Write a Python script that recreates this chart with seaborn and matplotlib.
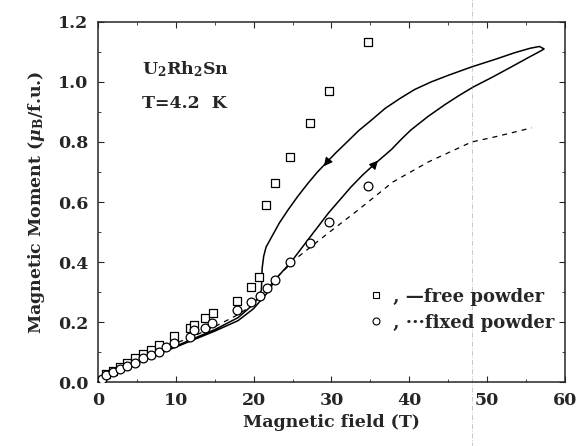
import seaborn as sns
import matplotlib.pyplot as plt
import pandas as pd
from matplotlib.ticker import MultipleLocator
from matplotlib.lines import Line2D

# datos
free_x = [1.0, 1.9, 2.8, 3.8, 4.8, 5.8, 6.8, 7.8, 9.8, 11.8, 12.3, 13.8, 14.8,
          17.9, 19.7, 20.7, 21.6, 22.75, 24.7, 27.2, 29.7, 34.7]
free_y = [0.027, 0.037, 0.05, 0.063, 0.08, 0.093, 0.107, 0.123, 0.153, 0.18, 0.19,
          0.213, 0.23, 0.27, 0.317, 0.35, 0.59, 0.663, 0.75, 0.863, 0.97, 1.133]

fixed_x = [0.5, 1.0, 1.9, 2.8, 3.8, 4.8, 5.8, 6.8, 7.8, 8.7, 9.8, 11.8, 12.3,
           13.8, 14.7, 17.9, 19.7, 20.8, 21.7, 22.8, 24.7, 27.3, 29.7, 34.7]
fixed_y = [0.01, 0.023, 0.033, 0.043, 0.053, 0.063, 0.08, 0.09, 0.1, 0.117, 0.13,
           0.15, 0.173, 0.18, 0.197, 0.24, 0.267, 0.287, 0.313, 0.34, 0.40, 0.463,
           0.533, 0.653]

# curva libre: subida y bajada (histeresis)
up_x = [0, 2, 5, 10, 15, 18, 20, 21, 22, 22.7, 24.8, 27, 29.6, 31, 32.5, 34,
        35.6, 37.7, 39, 40.2, 42.4, 44.6, 46.4, 48.2, 50.6, 53.1, 55.2, 56.5, 57.2]
up_y = [0, 0.025, 0.065, 0.117, 0.17, 0.205, 0.245, 0.275, 0.305, 0.34, 0.40,
        0.475, 0.563, 0.605, 0.65, 0.69, 0.728, 0.775, 0.81, 0.84, 0.885, 0.925,
        0.955, 0.983, 1.015, 1.05, 1.08, 1.098, 1.108]
down_x = [57.3, 56.7, 55.5, 53.5, 51, 48, 45, 42.8, 40.7, 38.8, 36.9, 35, 33.5,
          32, 30.6, 29.3, 28.2, 27, 25.7, 24.4, 23.3, 22.3, 21.6, 21.3, 21.1,
          21.0, 20.6, 20, 18, 15, 10, 5, 2, 0]
down_y = [1.11, 1.118, 1.112, 1.097, 1.075, 1.05, 1.022, 1.0, 0.975, 0.945,
          0.912, 0.87, 0.838, 0.80, 0.765, 0.73, 0.70, 0.663, 0.62, 0.573, 0.53,
          0.483, 0.45, 0.42, 0.38, 0.307, 0.283, 0.26, 0.215, 0.175, 0.12, 0.066,
          0.026, 0]

# curva fija (punteada)
fix_line_x = [0, 5, 10, 12, 15, 18, 20, 23.5, 25.7, 29.6, 33.4, 37.9, 42.4, 48,
              51, 55.7]
fix_line_y = [0, 0.07, 0.13, 0.15, 0.185, 0.225, 0.26, 0.363, 0.417, 0.497, 0.573,
              0.667, 0.733, 0.8, 0.817, 0.847]

sns.set_style("ticks")
plt.rcParams['font.family'] = ['DejaVu Serif', 'DejaVu Sans']
plt.rcParams['mathtext.fontset'] = 'dejavuserif'
plt.rcParams['font.weight'] = 'bold'

fig = plt.figure(figsize=(5.79, 4.46), dpi=100)
ax = fig.add_axes([0.169, 0.143, 0.807, 0.808])

loop = pd.DataFrame({'x': up_x + down_x, 'y': up_y + down_y})
sns.lineplot(data=loop, x='x', y='y', sort=False, estimator=None, color='k',
             lw=1.1, ax=ax)
sns.lineplot(x=fix_line_x, y=fix_line_y, color='k', lw=0.9, ax=ax,
             linestyle=(0, (4, 4)))
sns.scatterplot(x=free_x, y=free_y, marker='s', s=28, facecolor='white',
                edgecolor='k', linewidth=0.9, ax=ax, zorder=3)
sns.scatterplot(x=fixed_x, y=fixed_y, marker='o', s=40, facecolor='white',
                edgecolor='k', linewidth=0.9, ax=ax, zorder=3)

# flechas de la histeresis
ax.annotate('', xy=(28.8, 0.712), xytext=(29.9, 0.748),
            arrowprops=dict(arrowstyle='-|>', color='k', lw=0.8, mutation_scale=13))
ax.annotate('', xy=(36.2, 0.745), xytext=(35.1, 0.713),
            arrowprops=dict(arrowstyle='-|>', color='k', lw=0.8, mutation_scale=13))

# linea vertical del escaneo
ax.plot([48, 48], [-0.22, 1.28], color='gray', lw=0.6, ls=(0, (6, 2, 1, 2)),
        alpha=0.5, clip_on=False)

ax.set_xlim(0, 60)
ax.set_ylim(0, 1.2)
ax.xaxis.set_major_locator(MultipleLocator(10))
ax.xaxis.set_minor_locator(MultipleLocator(5))
ax.yaxis.set_major_locator(MultipleLocator(0.2))
ax.yaxis.set_minor_locator(MultipleLocator(0.1))
ax.yaxis.set_major_formatter(plt.FormatStrFormatter('%.1f'))
ax.tick_params(which='both', direction='in', top=True, right=True, labelsize=12.5,
               pad=7)
ax.tick_params(which='major', length=4)
ax.tick_params(which='minor', length=2.5)
for s in ax.spines.values():
    s.set_linewidth(1.1)
    s.set_visible(True)

ax.set_xlabel('Magnetic field (T)', fontsize=12.5, fontweight='bold', labelpad=4)
ax.set_ylabel(r'Magnetic Moment ($\mu_\mathbf{B}$/f.u.)', fontsize=12.5,
              fontweight='bold', labelpad=8)

ax.text(0.095, 0.855, r'U$_\mathbf{2}$Rh$_\mathbf{2}$Sn', transform=ax.transAxes,
        fontsize=12.5, fontweight='bold')
ax.text(0.095, 0.76, 'T=4.2  K', transform=ax.transAxes, fontsize=12.5,
        fontweight='bold')

# leyenda
handles = [Line2D([], [], marker='s', ls='none', ms=5, mfc='white', mec='k', mew=0.8),
           Line2D([], [], marker='o', ls='none', ms=5, mfc='white', mec='k', mew=0.8)]
labels = [' , \u2014free powder', ' , \u00b7\u00b7\u00b7fixed powder']
leg = ax.legend(handles, labels, loc='lower right', bbox_to_anchor=(1.0, 0.11),
                frameon=False, fontsize=13, handlelength=0.8, handletextpad=0.2,
                labelspacing=0.45, borderaxespad=0.2)

plt.savefig('out.png', dpi=100)
